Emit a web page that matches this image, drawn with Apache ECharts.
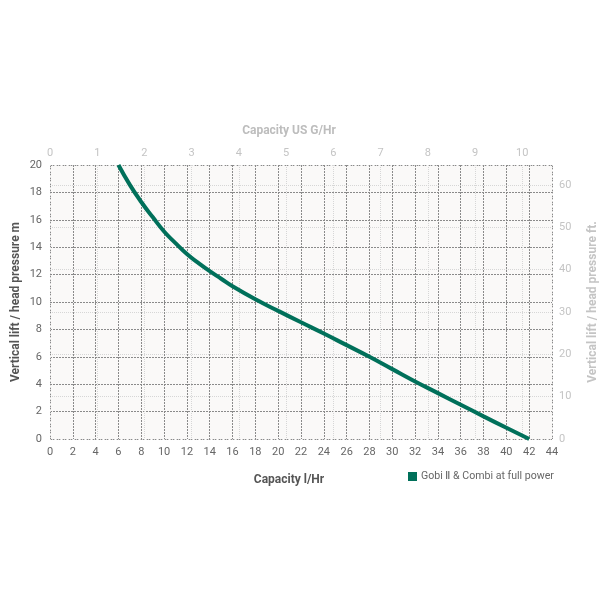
<!DOCTYPE html>
<html>
<head>
<meta charset="utf-8">
<script src="https://cdn.jsdelivr.net/npm/echarts@6/dist/echarts.min.js"></script>
<style>html,body{margin:0;padding:0;background:#fff}#c{width:610px;height:610px}</style>
</head>
<body>
<div id="c"></div>
<script>
// Capacity l/Hr vs vertical lift (m)
const capacityLHr = [6, 7, 8, 9, 10, 11, 12, 13, 14, 15, 16, 18, 20, 22, 24, 26, 28, 30, 32, 34, 36, 38, 40, 42];
const liftM = [20, 18.55, 17.3, 16.2, 15.15, 14.3, 13.5, 12.85, 12.25, 11.7, 11.15, 10.2, 9.35, 8.52, 7.7, 6.85, 6.0, 5.1, 4.2, 3.35, 2.5, 1.65, 0.82, 0];
const seriesName = 'Gobi Ⅱ & Combi at full power';
const bottomAxis = { min: 0, max: 44, interval: 2, name: 'Capacity l/Hr' };
const topAxis = { min: 0, max: 10.63, interval: 1, name: 'Capacity US G/Hr' };
const leftAxis = { min: 0, max: 20, interval: 2, name: 'Vertical lift / head pressure m' };
const rightAxis = { min: 0, max: 64.7, interval: 10, name: 'Vertical lift / head pressure ft.' };

const FONT = 'Roboto';
const darkLine = { color: '#8a8a8a', width: 1, type: [2, 1] };
const lightLine = { color: '#d6d6d6', width: 1, type: [1, 1] };
const intOnly = (step) => (v) => (Math.abs(v / step - Math.round(v / step)) < 1e-6 ? String(Math.round(v)) : '');

const chart = echarts.init(document.getElementById('c'));
chart.setOption({
  animation: false,
  textStyle: { fontFamily: FONT },
  grid: { left: 50, right: 58, top: 165, bottom: 171, show: true, backgroundColor: '#faf9f8', borderWidth: 0, outerBoundsMode: 'none' },
  legend: {
    left: 408, top: 471, padding: 0, icon: 'rect', itemWidth: 9, itemHeight: 9, itemGap: 4,
    textStyle: { color: '#666', fontSize: 10.6, fontFamily: FONT, padding: [0, 0, 0, -1] },
    data: [seriesName]
  },
  xAxis: [
    {
      type: 'value', position: 'bottom', min: bottomAxis.min, max: bottomAxis.max, interval: bottomAxis.interval,
      name: bottomAxis.name, nameLocation: 'middle', nameGap: 35,
      nameTextStyle: { color: '#555', fontWeight: 'bold', fontSize: 12, fontFamily: FONT, padding: [0, 24, 0, 0] },
      axisLine: { show: false }, axisTick: { show: false },
      axisLabel: { color: '#666', fontSize: 11, margin: 8, formatter: intOnly(2) },
      splitLine: { show: true, lineStyle: darkLine }
    },
    {
      type: 'value', position: 'top', min: topAxis.min, max: topAxis.max, interval: topAxis.interval,
      name: topAxis.name, nameLocation: 'middle', nameGap: 28,
      nameTextStyle: { color: '#bdbdbd', fontWeight: 'bold', fontSize: 12, fontFamily: FONT, padding: [0, 24, 0, 0] },
      axisLine: { show: false }, axisTick: { show: false },
      axisLabel: { color: '#c4c4c4', fontSize: 11, margin: 6, formatter: intOnly(1) },
      splitLine: { show: true, lineStyle: lightLine }
    }
  ],
  yAxis: [
    {
      type: 'value', position: 'left', min: leftAxis.min, max: leftAxis.max, interval: leftAxis.interval,
      name: leftAxis.name, nameLocation: 'middle', nameGap: 28, nameRotate: 90, nameMoveOverlap: false,
      nameTextStyle: { color: '#555', fontWeight: 'bold', fontSize: 12, fontFamily: FONT },
      axisLine: { show: false }, axisTick: { show: false },
      axisLabel: { color: '#666', fontSize: 11, margin: 8 },
      splitLine: { show: true, lineStyle: darkLine }
    },
    {
      type: 'value', position: 'right', min: rightAxis.min, max: rightAxis.max, interval: rightAxis.interval,
      name: rightAxis.name, nameLocation: 'middle', nameGap: 35, nameRotate: 90,
      nameTextStyle: { color: '#c4c4c4', fontWeight: 'bold', fontSize: 12, fontFamily: FONT },
      axisLine: { show: false }, axisTick: { show: false },
      axisLabel: { color: '#c4c4c4', fontSize: 11, margin: 7, formatter: intOnly(10) },
      splitLine: { show: true, lineStyle: lightLine }
    }
  ],
  series: [
    {
      name: seriesName, type: 'line', xAxisIndex: 0, yAxisIndex: 0, smooth: 0.5,
      showSymbol: false, symbol: 'none',
      color: '#00705a', lineStyle: { width: 4, color: '#00705a' }, z: 10,
      data: capacityLHr.map((x, i) => [x, liftM[i]])
    }
  ]
});
</script>
</body>
</html>
